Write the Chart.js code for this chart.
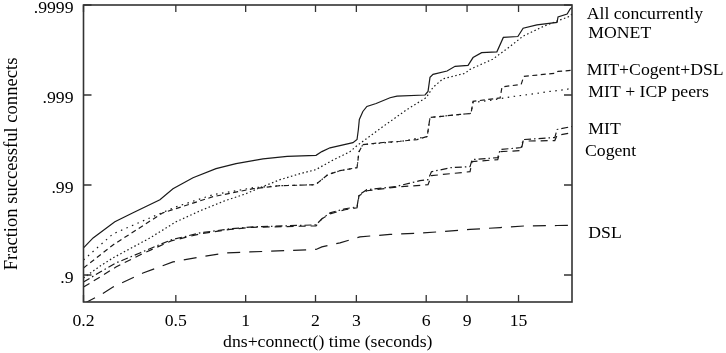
<!DOCTYPE html>
<html>
<head>
<meta charset="utf-8">
<script src="https://cdn.jsdelivr.net/npm/chart.js@4"></script>
<style>
  html, body { margin: 0; padding: 0; background: #fff; }
  #c { display: block; }
</style>
</head>
<body>
<canvas id="c" width="726" height="353"></canvas>
<script>
// ---- Data (x: dns+connect() time in seconds; y: "nines" = -log10(1 - fraction successful)) ----
const xTickValues = [0.2, 0.5, 1, 2, 3, 6, 9, 15];
const xTickLabels = ['0.2', '0.5', '1', '2', '3', '6', '9', '15'];
const yTickValues = [1, 2, 3, 4];
const yTickLabels = ['.9', '.99', '.999', '.9999'];
const seriesNames = ['All concurrently', 'MONET', 'MIT+Cogent+DSL', 'MIT + ICP peers', 'MIT', 'Cogent', 'DSL'];

const allTime  = [0.2,0.22,0.273,0.327,0.427,0.486,0.593,0.745,0.909,1.076,1.188,1.51,2.01,2.13,2.31,2.9,3.02,3.06,3.09,3.2,3.33,3.65,4.19,4.49,5.93,6.11,6.23,6.42,7.38,7.99,9.09,9.55,10.4,12.1,12.9,14.9,15.7,18.0,21.98,22.2,24.3,25.0,25.5];
const allNines = [1.301,1.412,1.591,1.691,1.836,1.959,2.081,2.182,2.237,2.27,2.29,2.319,2.33,2.371,2.413,2.47,2.505,2.617,2.728,2.817,2.873,2.906,2.97,2.988,3.0,3.04,3.196,3.23,3.266,3.319,3.33,3.416,3.47,3.48,3.64,3.65,3.742,3.78,3.806,3.868,3.899,3.954,3.973];

const monetTime  = [0.2,0.236,0.268,0.387,0.501,0.636,0.814,1.003,1.153,1.406,1.715,2.01,2.31,2.82,3.02,3.91,4.96,5.99,6.42,7.09,8.82,9.27,11.6,13.8,15.7,19.3,25.0,25.5];
const monetNines = [0.967,1.1,1.19,1.412,1.591,1.713,1.825,1.903,1.97,2.059,2.126,2.171,2.26,2.371,2.438,2.65,2.839,2.97,3.085,3.18,3.241,3.285,3.397,3.54,3.654,3.765,3.876,3.9];

const mcdTime  = [0.2,0.268,0.44,0.723,1.076,1.406,2.0,2.26,2.55,3.02,3.08,3.2,3.91,4.63,5.48,6.06,6.23,8.39,9.36,9.55,12.5,12.73,15.4,15.8,21.5,22.2,25.5];
const mcdNines = [1.078,1.334,1.691,1.87,1.959,1.992,2.003,2.115,2.159,2.193,2.371,2.449,2.472,2.486,2.505,2.54,2.75,2.784,2.795,2.929,2.968,3.09,3.118,3.207,3.241,3.263,3.274];

const icpTime  = [0.2,0.268,0.387,0.501,0.723,1.076,1.406,2.0,2.26,2.55,3.02,3.08,3.2,4.63,6.06,6.23,8.39,9.36,9.55,11.3,13.8,16.8,20.5,24.3,25.5];
const icpNines = [1.167,1.457,1.635,1.758,1.892,1.97,1.992,2.003,2.115,2.159,2.193,2.371,2.449,2.483,2.538,2.75,2.784,2.795,2.918,2.94,2.979,3.007,3.04,3.062,3.085];

const mitTime  = [0.2,0.236,0.276,0.35,0.477,0.636,0.856,1.076,2.01,2.13,2.31,2.68,3.02,3.08,3.33,4.4,5.64,6.11,6.32,7.68,9.27,9.46,12.2,12.5,15.4,15.7,21.5,21.98,25.5];
const mitNines = [0.922,1.033,1.134,1.245,1.39,1.468,1.513,1.535,1.557,1.624,1.691,1.736,1.758,1.892,1.948,1.981,2.048,2.059,2.148,2.193,2.204,2.282,2.304,2.394,2.416,2.505,2.527,2.617,2.65];

const cogentTime  = [0.2,0.236,0.276,0.35,0.477,0.636,0.856,1.076,2.01,2.13,2.31,2.68,3.02,3.08,3.33,4.63,6.11,6.32,9.27,9.46,12.2,12.5,15.4,15.7,21.5,21.98,25.5];
const cogentNines = [0.866,0.978,1.089,1.223,1.379,1.457,1.507,1.53,1.546,1.624,1.68,1.725,1.747,1.881,1.936,1.981,2.003,2.104,2.148,2.26,2.282,2.371,2.382,2.488,2.494,2.55,2.583];

const dslTime  = [0.2,0.236,0.268,0.361,0.486,0.636,0.823,1.044,2.01,2.13,2.55,3.11,4.19,5.64,7.23,9.27,12.5,16.2,21.98,25.5];
const dslNines = [0.68,0.777,0.866,1.022,1.145,1.201,1.245,1.256,1.284,1.312,1.357,1.424,1.451,1.465,1.485,1.507,1.527,1.546,1.55,1.552];

// ---- Build ----
const seriesTimes = [allTime, monetTime, mcdTime, icpTime, mitTime, cogentTime, dslTime];
const seriesNines = [allNines, monetNines, mcdNines, icpNines, mitNines, cogentNines, dslNines];
const dashes = [[], [1.5, 2.5], [5, 3.5], [1.5, 4.5], [7, 3, 1.5, 3], [7, 5], [13, 9]];

const FONT = 'Liberation Serif, Times New Roman, serif';

const datasets = seriesNames.map((name, i) => ({
  label: name,
  data: seriesTimes[i].map((t, j) => ({ x: t, y: seriesNines[i][j] })),
  borderColor: '#1a1a1a',
  borderWidth: 1.2,
  borderDash: dashes[i],
  pointRadius: 0,
  tension: 0,
  fill: false
}));

const framePlugin = {
  id: 'frame',
  afterDatasetsDraw(chart) {
    const { ctx, chartArea: a, scales } = chart;
    ctx.save();
    ctx.strokeStyle = '#333';
    ctx.lineWidth = 1.6;
    ctx.setLineDash([]);
    ctx.strokeRect(a.left, a.top, a.right - a.left, a.bottom - a.top);
    ctx.lineWidth = 1.3;
    ctx.beginPath();
    xTickValues.forEach(v => {
      const px = scales.x.getPixelForValue(v);
      ctx.moveTo(px, a.bottom); ctx.lineTo(px, a.bottom - 7);
      ctx.moveTo(px, a.top); ctx.lineTo(px, a.top + 7);
    });
    yTickValues.forEach(v => {
      const py = scales.y.getPixelForValue(v);
      ctx.moveTo(a.left, py); ctx.lineTo(a.left + 8, py);
      ctx.moveTo(a.right, py); ctx.lineTo(a.right - 8, py);
    });
    ctx.stroke();
    ctx.restore();
  },
  afterDraw(chart) {
    const { ctx, chartArea: a } = chart;
    ctx.save();
    ctx.fillStyle = '#000';
    // y axis title
    ctx.font = '18.6px ' + FONT;
    ctx.textAlign = 'center';
    ctx.textBaseline = 'middle';
    ctx.translate(12.5, 164);
    ctx.rotate(-Math.PI / 2);
    ctx.fillText('Fraction successful connects', 0, 0);
    ctx.restore();
    // series labels at right
    ctx.save();
    ctx.fillStyle = '#000';
    ctx.font = '17.7px ' + FONT;
    ctx.textAlign = 'left';
    ctx.textBaseline = 'alphabetic';
    const offs = [[14.7, 19], [16.3, 38], [14.7, 75], [16.3, 97], [16.3, 134], [13, 156], [16.3, 238]];
    seriesNames.forEach((n, i) => ctx.fillText(n, a.right + offs[i][0], offs[i][1]));
    ctx.restore();
  }
};

new Chart(document.getElementById('c'), {
  type: 'line',
  data: { datasets },
  options: {
    responsive: false,
    animation: false,
    devicePixelRatio: 1,
    layout: { padding: { left: 0, right: 154, top: 5, bottom: 0 } },
    plugins: { legend: { display: false }, tooltip: { enabled: false } },
    scales: {
      x: {
        type: 'logarithmic',
        min: 0.2,
        max: 25.5,
        grid: { display: false, drawTicks: false },
        border: { display: false },
        afterBuildTicks: s => { s.ticks = xTickValues.map(v => ({ value: v })); },
        afterFit: s => { s.height = 51; s.paddingLeft = 0; s.paddingRight = 0; },
        ticks: {
          autoSkip: false, maxRotation: 0, padding: 9, color: '#000',
          font: { family: FONT, size: 17.7 },
          callback: (v, i) => xTickLabels[i]
        },
        title: {
          display: true, text: 'dns+connect() time (seconds)', color: '#000',
          font: { family: FONT, size: 17.7, lineHeight: 1.2 },
          padding: { top: 0, bottom: 0 }
        }
      },
      y: {
        type: 'linear',
        min: 0.7,
        max: 4.0,
        grid: { display: false, drawTicks: false },
        border: { display: false },
        afterBuildTicks: s => { s.ticks = yTickValues.map(v => ({ value: v })); },
        afterFit: s => { s.width = 83.5; s.paddingTop = 0; s.paddingBottom = 0; },
        ticks: {
          autoSkip: false, padding: 10, labelOffset: 3, color: '#000',
          font: { family: FONT, size: 17.7 },
          callback: (v, i) => yTickLabels[i]
        }
      }
    }
  },
  plugins: [framePlugin]
});
</script>
</body>
</html>
